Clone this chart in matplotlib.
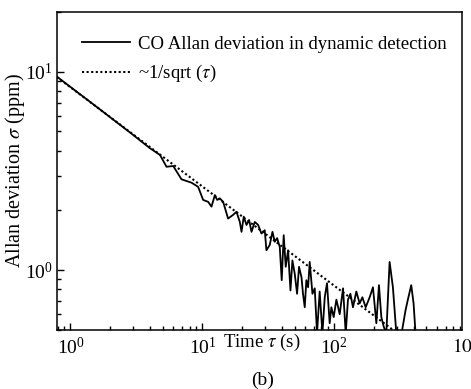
import matplotlib
matplotlib.use("Agg")
import matplotlib.pyplot as plt
import matplotlib.transforms as mtransforms

plt.rcParams['font.family'] = ['Liberation Serif', 'DejaVu Serif']
plt.rcParams['mathtext.fontset'] = 'stix'

# Allan deviation
tau = [0.79, 1.5, 2.82, 4.0, 4.77, 5.35, 6.01, 6.95, 8.28, 9.29,
       10.14, 11.06, 11.74, 12.44, 12.95, 13.58, 14.38, 15.68, 17.11, 18.16,
       19.24, 19.82, 20.61, 21.62, 22.63, 23.59, 24.98, 26.49, 28.07, 29.73,
       30.63, 32.45, 34.03, 35.42, 36.9, 38.65, 40.0, 41.4, 42.9, 44.7,
       46.6, 48.2, 50.2, 52.3, 54.1, 56.5, 58.0, 59.8, 61.5, 63.4,
       65.2, 68.4, 71.2, 74.1, 77.6, 81.4, 84.8, 88.2, 92.4, 95.2,
       99.1, 103.9, 110.1, 116.7, 122.3, 127.2, 132.7, 138.8, 147.2, 156.0,
       163.6, 173.3, 185.8, 196.8, 208.8, 218.5, 227.8, 237.2, 248.5, 263.2,
       278.8, 296, 319, 348, 362, 384, 400, 414, 430]
sigma = [9.44, 6.83, 4.95, 4.12, 3.81, 3.32, 3.35, 2.87, 2.76, 2.63,
         2.26, 2.21, 2.09, 2.39, 2.26, 2.30, 2.21, 1.82, 1.90, 1.97,
         1.75, 1.56, 1.86, 1.69, 1.79, 1.56, 1.75, 1.69, 1.53, 1.59,
         1.26, 1.34, 1.56, 1.39, 1.45, 1.31, 0.89, 1.50, 1.04, 1.26,
         0.79, 1.12, 0.96, 0.76, 1.04, 0.92, 0.76, 0.65, 0.89, 0.82,
         1.10, 0.76, 0.81, 0.48, 0.78, 0.48, 0.73, 0.86, 0.54, 0.65,
         0.58, 0.71, 0.60, 0.81, 0.48, 0.71, 0.76, 0.65, 0.78, 0.68,
         0.73, 0.65, 0.73, 0.82, 0.54, 0.84, 0.58, 0.52, 0.48, 1.10,
         0.82, 0.48, 0.45, 0.63, 0.71, 0.84, 0.68, 0.48, 0.45]

# ~1/sqrt(tau) reference line end points
tau_ref = [0.79, 1000]
sigma_ref = [9.40, 0.264]

fig = plt.figure(figsize=(4.71, 3.89), dpi=100)
ax = fig.add_axes([0.121, 0.152, 0.859, 0.817])

ax.plot(tau, sigma, color='black', lw=1.3,
        label='CO Allan deviation in dynamic detection')
ax.plot(tau_ref, sigma_ref, color='black', lw=1.5, linestyle=(0, (1, 1.2)),
        label=r'~1/sqrt ($\tau$)')

ax.set_xscale('log')
ax.set_yscale('log')
ax.set_xlim(0.79, 925)
ax.set_ylim(0.5, 20)

ax.tick_params(which='both', direction='in', top=False, right=False,
               labelsize=14, width=1.0)
ax.tick_params(which='major', length=5)
ax.tick_params(which='minor', length=3)
ax.tick_params(axis='x', which='major', pad=5)
ax.tick_params(axis='y', which='major', pad=3)
for s in ax.spines.values():
    s.set_linewidth(1.1)

ax.set_ylabel(r'Allan deviation $\sigma$ (ppm)', fontsize=14.5)
ax.yaxis.set_label_coords(-0.075, 0.5)
ax.set_xlabel(r'Time $\tau$ (s)', fontsize=13.5)
ax.xaxis.set_label_coords(0.505, -0.005)
fig.text(0.558, 0.0, '(b)', fontsize=14, ha='center', va='bottom')

# clipped 10^3 label at the right edge
trans = mtransforms.blended_transform_factory(ax.transData, ax.transAxes)
ax.text(1000, -0.016, r'$10^3$', transform=trans, ha='center', va='top',
        fontsize=14, clip_on=False)

ax.legend(loc='upper left', bbox_to_anchor=(0.062, 0.925), frameon=False,
          fontsize=13.5, handlelength=2.55, handletextpad=0.45,
          labelspacing=0.55, borderpad=0, borderaxespad=0)

fig.savefig('out.png', dpi=100)
